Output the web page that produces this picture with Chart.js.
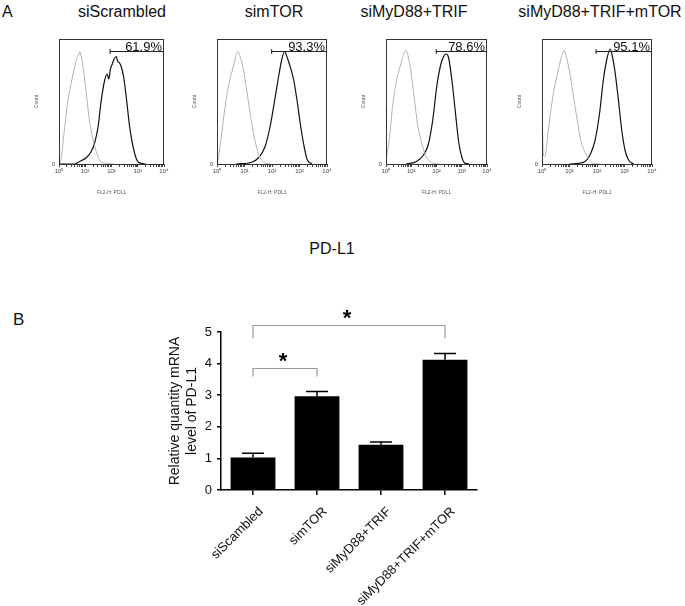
<!DOCTYPE html>
<html>
<head>
<meta charset="utf-8">
<script src="https://cdn.jsdelivr.net/npm/chart.js@4.4.1/dist/chart.umd.min.js"></script>
<style>
  html, body { margin: 0; padding: 0; background: #fff; }
  #fig { position: relative; width: 685px; height: 606px; background: #fff; overflow: hidden;
         font-family: 'Liberation Sans', Arial, sans-serif; color: #111; }
  .lbl { position: absolute; white-space: nowrap; line-height: 16px; }
  canvas { position: absolute; }
</style>
</head>
<body>
<div id="fig">
  <div class="lbl" style="left:2px;top:4px;font-size:16px;">A</div>
  <div class="lbl" style="left:13px;top:312px;font-size:17px;">B</div>
  <div class="lbl" id="pdl1" style="left:332px;top:241px;font-size:16px;transform:translateX(-50%);">PD-L1</div>
  <canvas id="h0"></canvas>
  <canvas id="h1"></canvas>
  <canvas id="h2"></canvas>
  <canvas id="h3"></canvas>
  <canvas id="bar"></canvas>
</div>
<script>
// ---------------- DATA ----------------
// Panel A: flow cytometry histograms (x = log10 of FL2-H intensity, y = % of plot height)
const panelTitles = ['siScrambled', 'simTOR', 'siMyD88+TRIF', 'siMyD88+TRIF+mTOR'];
const gatePercents = ['61.9%', '93.3%', '78.6%', '95.1%'];
const gateStarts = [1.93, 1.97, 1.97, 1.95];
const gateLevels = [90, 90, 90, 90];

const p1Control = [[0.02,0],[0.05,1],[0.09,6],[0.22,30],[0.34,51],[0.47,65],[0.60,78],[0.69,85],[0.76,88],[0.79,90],[0.85,86],[0.94,74],[1.04,57],[1.14,38],[1.27,22],[1.42,10],[1.55,3],[1.8,0.5],[2.1,0]];
const p1Sample  = [[0,0],[0.6,0],[0.79,2],[1.04,5],[1.23,10],[1.36,17],[1.49,30],[1.61,51],[1.74,67],[1.83,72],[1.9,68],[1.96,76],[2.03,80],[2.1,84],[2.18,86],[2.24,82],[2.3,81],[2.37,78],[2.46,70],[2.56,54],[2.69,30],[2.82,14],[2.97,3],[3.14,0.5],[3.3,0]];
const p2Control = [[0.02,0],[0.05,5],[0.11,14],[0.23,35],[0.35,54],[0.47,68],[0.57,76],[0.66,84],[0.75,90],[0.84,86],[0.94,78],[1.06,62],[1.20,41],[1.35,22],[1.51,8],[1.69,1.5],[1.93,0]];
const p2Sample  = [[0.7,0],[1.26,1.4],[1.51,5],[1.75,14],[1.93,30],[2.12,54],[2.24,70],[2.36,84],[2.46,90],[2.54,86],[2.66,78],[2.78,68],[2.91,51],[3.03,32],[3.15,16],[3.27,4],[3.45,0]];
const p3Control = [[0.01,0],[0.03,6],[0.13,19],[0.26,46],[0.42,67],[0.56,78],[0.69,87],[0.79,91],[0.89,85],[0.98,75],[1.11,54],[1.25,32],[1.42,16],[1.62,5],[1.88,0.5],[2.1,0]];
const p3Sample  = [[0.8,0],[1.21,2],[1.48,7],[1.68,16],[1.85,35],[2.01,62],[2.15,78],[2.28,86],[2.38,88],[2.48,85],[2.61,67],[2.74,43],[2.87,19],[3.01,5],[3.14,0.5],[3.3,0]];
const p4Control = [[0.01,0],[0.02,26],[0.04,8],[0.1,6],[0.22,25],[0.34,46],[0.46,62],[0.59,75],[0.71,86],[0.80,91],[0.89,85],[1.01,73],[1.13,56],[1.26,38],[1.41,19],[1.62,7],[1.87,0.5],[2.1,0]];
const p4Sample  = [[1.0,0],[1.5,1.3],[1.74,7],[1.93,19],[2.09,40],[2.23,67],[2.35,83],[2.48,92],[2.56,86],[2.66,73],[2.78,51],[2.90,27],[3.02,11],[3.15,3],[3.33,0]];
const controls = [p1Control, p2Control, p3Control, p4Control];
const samples  = [p1Sample, p2Sample, p3Sample, p4Sample];
const decadeLabels = ['10\u2070', '10\u00b9', '10\u00b2', '10\u00b3', '10\u2074'];

// Panel B: bar chart
const categories = ['siScambled', 'simTOR', 'siMyD88+TRIF', 'siMyD88+TRIF+mTOR'];
const means = [1.03, 2.97, 1.43, 4.12];
const errors = [0.13, 0.15, 0.09, 0.20];
const sigPairs = [[0, 1], [0, 3]];
const sigTops = [3.86, 5.22];
const sigFeet = [3.59, 4.80];
const yTitleLines = ['Relative quantity mRNA', 'level of PD-L1'];

// ---------------- LAYOUT ----------------
const FONT = "'Liberation Sans', Arial, sans-serif";
Chart.defaults.font.family = FONT;
Chart.defaults.color = '#111';
const boxLefts = [59, 217, 386, 542];
const boxRights = [164, 327, 487, 652];
const titleCenters = [122, 274, 414, 600];
const BOX_TOP = 39, BOX_BOTTOM = 164;

const fig = document.getElementById('fig');
panelTitles.forEach((t, i) => {
  const d = document.createElement('div');
  d.className = 'lbl';
  d.textContent = t;
  d.style.left = titleCenters[i] + 'px';
  d.style.top = '4px';
  d.style.fontSize = '16px';
  d.style.transform = 'translateX(-50%)';
  fig.appendChild(d);
});

const logTicks = [];
for (let n = 0; n < 4; n++) for (let k = 1; k <= 9; k++) logTicks.push(n + Math.log10(k));
logTicks.push(4);

const toXY = arr => arr.map(p => ({ x: p[0], y: p[1] }));

const boxPlugin = {
  id: 'boxGate',
  afterDatasetsDraw(chart, args, opts) {
    const { ctx, chartArea: a, scales } = chart;
    ctx.save();
    ctx.strokeStyle = '#333';
    ctx.lineWidth = 1;
    ctx.strokeRect(a.left + 0.5, a.top + 0.5, a.right - a.left - 1, a.bottom - a.top);
    // gate marker
    const x0 = scales.x.getPixelForValue(opts.start);
    const y0 = Math.round(scales.y.getPixelForValue(opts.level)) + 0.5;
    ctx.strokeStyle = '#222';
    ctx.beginPath();
    ctx.moveTo(x0, y0); ctx.lineTo(a.right, y0);
    ctx.moveTo(x0 + 0.5, y0 - 2.5); ctx.lineTo(x0 + 0.5, y0 + 2.5);
    ctx.stroke();
    ctx.fillStyle = '#111';
    ctx.font = '13px ' + FONT;
    ctx.textAlign = 'right';
    ctx.textBaseline = 'alphabetic';
    ctx.fillText(opts.label, a.right - 2, y0 - 1);
    ctx.restore();
  }
};

function makeHist(i) {
  const cv = document.getElementById('h' + i);
  const w = boxRights[i] - boxLefts[i] + 32 + 8;
  cv.width = w; cv.height = 170;
  cv.style.left = (boxLefts[i] - 32) + 'px';
  cv.style.top = (BOX_TOP - 9) + 'px';
  cv.style.width = w + 'px'; cv.style.height = '170px';
  new Chart(cv, {
    type: 'line',
    data: {
      datasets: [
        { data: toXY(controls[i]), borderColor: '#b2b2b2', borderWidth: 1, pointRadius: 0, cubicInterpolationMode: 'monotone' },
        { data: toXY(samples[i]), borderColor: '#111', borderWidth: 1.2, pointRadius: 0, cubicInterpolationMode: 'monotone' }
      ]
    },
    options: {
      animation: false, responsive: false, devicePixelRatio: 1,
      layout: { padding: { top: 9, right: 8, left: 0, bottom: 0 } },
      plugins: {
        legend: { display: false }, tooltip: { enabled: false },
        boxGate: { start: gateStarts[i], level: gateLevels[i], label: gatePercents[i] }
      },
      scales: {
        x: {
          type: 'linear', min: 0, max: 4,
          afterBuildTicks: s => { s.ticks = logTicks.map(v => ({ value: v })); },
          afterFit: s => { s.height = 36; },
          ticks: { autoSkip: false, maxRotation: 0, minRotation: 0, font: { size: 6 }, color: '#444', padding: 1,
                   callback: v => (Math.abs(v - Math.round(v)) < 1e-9 ? decadeLabels[Math.round(v)] : '') },
          grid: { drawOnChartArea: false, tickLength: 3, color: '#444' },
          border: { color: '#333' },
          title: { display: true, text: 'FL2-H: PDL1', font: { size: 5 }, color: '#555', padding: { top: 2, bottom: 4 } }
        },
        y: {
          min: 0, max: 100,
          afterBuildTicks: s => { s.ticks = [{ value: 0 }]; },
          afterFit: s => { s.width = 32; },
          ticks: { font: { size: 6 }, color: '#444', padding: 4 },
          grid: { drawOnChartArea: false, drawTicks: false },
          border: { color: '#333' },
          title: { display: true, text: 'Count', font: { size: 5 }, color: '#555', padding: { top: 7, bottom: 4 } }
        }
      }
    },
    plugins: [boxPlugin]
  });
}
for (let i = 0; i < 4; i++) makeHist(i);

// ---------------- BAR CHART ----------------
const barExtras = {
  id: 'barExtras',
  afterDatasetsDraw(chart) {
    const { ctx, scales: { x, y } } = chart;
    ctx.save();
    // error bars (upper only)
    ctx.strokeStyle = '#000';
    ctx.lineWidth = 1.5;
    means.forEach((m, i) => {
      const cx = x.getPixelForValue(i);
      const yb = y.getPixelForValue(m);
      const yt = y.getPixelForValue(m + errors[i]);
      ctx.beginPath();
      ctx.moveTo(cx, yb); ctx.lineTo(cx, yt);
      ctx.moveTo(cx - 11, yt); ctx.lineTo(cx + 11, yt);
      ctx.stroke();
    });
    // significance brackets
    sigPairs.forEach((pr, k) => {
      const xa = x.getPixelForValue(pr[0]);
      const xb = x.getPixelForValue(pr[1]);
      const yt = Math.round(y.getPixelForValue(sigTops[k])) + 0.5;
      const yf = y.getPixelForValue(sigFeet[k]);
      ctx.strokeStyle = '#9a9a9a';
      ctx.lineWidth = 1.2;
      ctx.beginPath();
      ctx.moveTo(xa, yf); ctx.lineTo(xa, yt); ctx.lineTo(xb, yt); ctx.lineTo(xb, yf);
      ctx.stroke();
      ctx.fillStyle = '#000';
      ctx.font = 'bold 22px ' + FONT;
      ctx.textAlign = 'center';
      ctx.textBaseline = 'alphabetic';
      ctx.fillText('*', (xa + xb) / 2 - 2, yt - 1);
    });
    ctx.restore();
  }
};

const bc = document.getElementById('bar');
bc.width = 340; bc.height = 306;
bc.style.left = '160px'; bc.style.top = '300px';
bc.style.width = '340px'; bc.style.height = '306px';
new Chart(bc, {
  type: 'bar',
  data: {
    labels: categories,
    datasets: [{ data: means, backgroundColor: '#000', borderWidth: 0, barPercentage: 0.7, categoryPercentage: 1.0 }]
  },
  options: {
    animation: false, responsive: false, devicePixelRatio: 1,
    layout: { padding: { top: 32, right: 23, left: 3, bottom: 0 } },
    plugins: { legend: { display: false }, tooltip: { enabled: false } },
    scales: {
      x: {
        afterFit: s => { s.height = 116; },
        ticks: { minRotation: 45, maxRotation: 45, autoSkip: false, font: { size: 13 }, color: '#111', padding: 9, labelOffset: 8 },
        grid: { drawOnChartArea: false, offset: false, tickLength: 5, color: '#000', lineWidth: 1.5 },
        border: { color: '#000', width: 1.5 }
      },
      y: {
        min: 0, max: 5,
        afterFit: s => { s.width = 58; },
        ticks: { stepSize: 1, font: { size: 13 }, color: '#111', padding: 5 },
        grid: { drawOnChartArea: false, tickLength: 4, color: '#000', lineWidth: 1.5 },
        border: { color: '#000', width: 1.5 },
        title: { display: true, text: yTitleLines, font: { size: 14 }, color: '#111', padding: { top: 4, bottom: 4 } }
      }
    }
  },
  plugins: [barExtras]
});
</script>
</body>
</html>
